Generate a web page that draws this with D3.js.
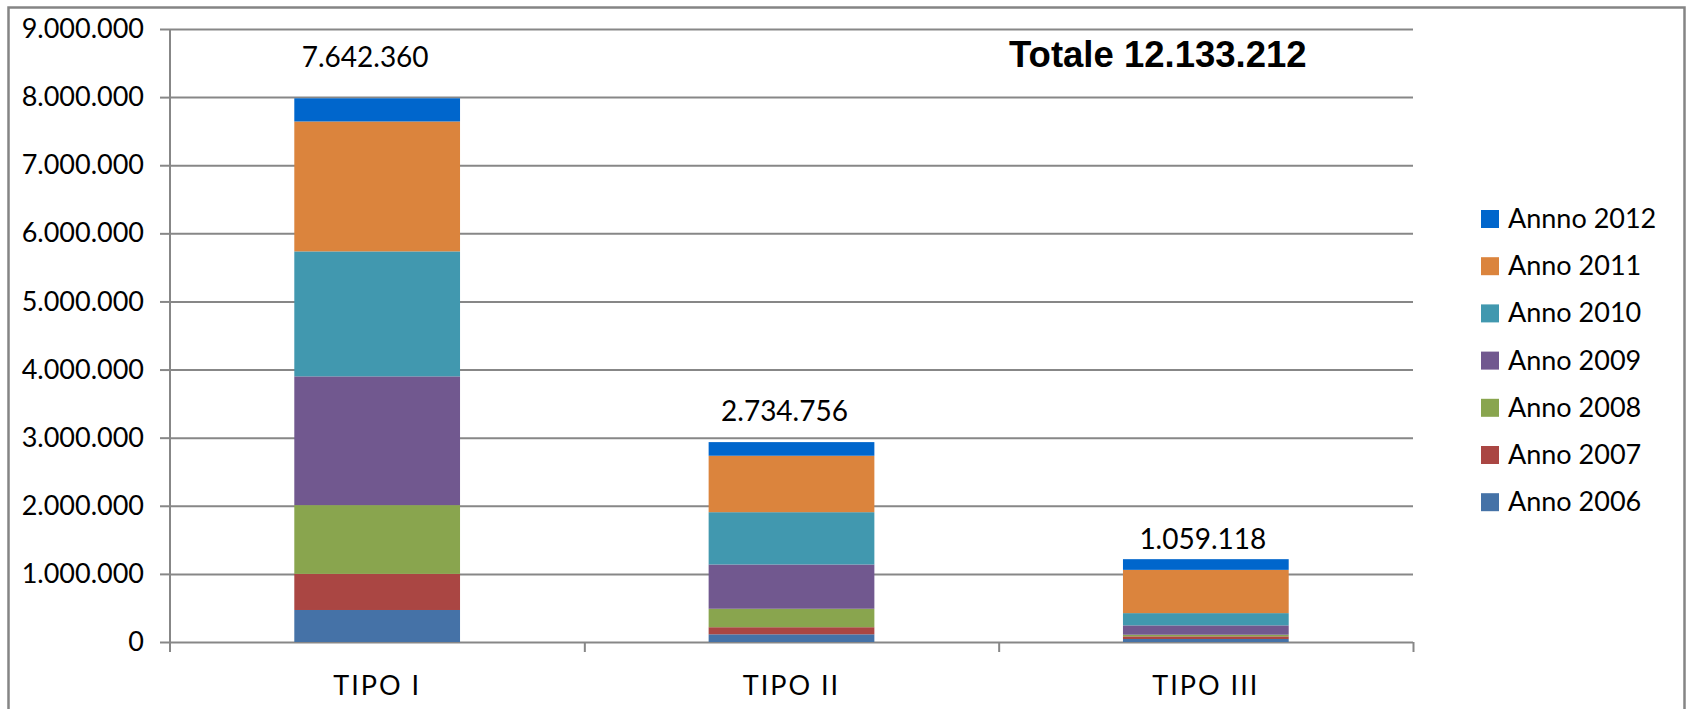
<!DOCTYPE html>
<html>
<head>
<meta charset="utf-8">
<script src="https://d3js.org/d3.v7.min.js"></script>
<style>
  body { margin: 0; background: #fff; }
  svg { display: block; }
</style>
</head>
<body>
<script>
// Categories and series
const categories = ["TIPO I", "TIPO II", "TIPO III"];
const years = ["2006", "2007", "2008", "2009", "2010", "2011", "2012"];
const legendLabels = ["Anno 2006", "Anno 2007", "Anno 2008", "Anno 2009", "Anno 2010", "Anno 2011", "Annno 2012"];

const anno2006 = [470000, 113000, 44000];
const anno2007 = [530000, 104000, 39000];
const anno2008 = [1010000, 271000, 24000];
const anno2009 = [1890000, 650000, 137000];
const anno2010 = [1835000, 768000, 180000];
const anno2011 = [1907360, 828756, 635118];
const anno2012 = [340000, 200000, 156978];

const barLabels = ["7.642.360", "2.734.756", "1.059.118"];
const yTicks = [0, 1e6, 2e6, 3e6, 4e6, 5e6, 6e6, 7e6, 8e6, 9e6];

const colors = ["#4572A7", "#AA4643", "#89A54E", "#71588F", "#4198AF", "#DB843D", "#0066CC"];

const seriesValues = [anno2006, anno2007, anno2008, anno2009, anno2010, anno2011, anno2012];

// table for d3.stack
const table = categories.map((c, i) => {
  const row = { cat: c };
  years.forEach((y, k) => row[y] = seriesValues[k][i]);
  return row;
});

const W = 1686, H = 709;
const margin = { top: 29, right: 273, bottom: 67, left: 170 };
const width = W - margin.left - margin.right;
const height = H - margin.top - margin.bottom;

const it = d3.formatLocale({ decimal: ",", thousands: ".", grouping: [3], currency: ["€", ""] });
const fmt = it.format(",d");

const svg = d3.select("body")
  .append("svg")
  .attr("width", W)
  .attr("height", H);

// outer frame
svg.append("rect")
  .attr("x", 8.5)
  .attr("y", 7.5)
  .attr("width", 1676)
  .attr("height", 760)
  .attr("fill", "none")
  .attr("stroke", "#858585")
  .attr("stroke-width", 2.5);

const g = svg.append("g")
  .attr("transform", `translate(${margin.left},${margin.top})`);

const x = d3.scaleBand()
  .domain(categories)
  .range([0, width])
  .paddingInner(0.6)
  .paddingOuter(0.3);

const xEdge = d3.scaleLinear()
  .domain([0, categories.length])
  .range([0, width]);

const y = d3.scaleLinear()
  .domain([0, 9e6])
  .range([height, 0]);

const gridColor = "#878787";

// grid lines
g.append("g")
  .call(d3.axisLeft(y).tickValues(yTicks).tickSize(-width).tickFormat(""))
  .call(s => s.select(".domain").remove())
  .call(s => s.selectAll("line").attr("stroke", gridColor).attr("stroke-width", 2));

// y axis
g.append("g")
  .call(d3.axisLeft(y).tickValues(yTicks).tickSize(10).tickPadding(16).tickFormat(fmt))
  .call(s => s.select(".domain").remove())
  .call(s => s.selectAll("line").attr("stroke", gridColor).attr("stroke-width", 2))
  .call(s => s.selectAll("text")
    .attr("font-family", "Lato, sans-serif")
    .attr("font-size", 27)
    .attr("fill", "#000"));

// vertical axis line (extends down as a tick)
g.append("line")
  .attr("x1", 0).attr("x2", 0)
  .attr("y1", 0).attr("y2", height + 10)
  .attr("stroke", gridColor)
  .attr("stroke-width", 2);

// x axis ticks at category boundaries
g.append("g")
  .attr("transform", `translate(0,${height})`)
  .call(d3.axisBottom(xEdge).tickValues(d3.range(1, categories.length + 1)).tickSize(10).tickFormat(""))
  .call(s => s.select(".domain").remove())
  .call(s => s.selectAll("line").attr("stroke", gridColor).attr("stroke-width", 2));

// category labels
g.append("g")
  .attr("transform", `translate(0,${height})`)
  .call(d3.axisBottom(x).tickSize(0).tickPadding(34))
  .call(s => s.select(".domain").remove())
  .call(s => s.selectAll("text")
    .attr("font-family", "Lato, sans-serif")
    .attr("font-size", 27)
    .attr("letter-spacing", 2)
    .attr("fill", "#000"));

// stacked bars
const stack = d3.stack().keys(years);
const layers = stack(table);

g.selectAll(".layer")
  .data(layers)
  .join("g")
  .attr("class", "layer")
  .attr("fill", (d, i) => colors[i])
  .selectAll("rect")
  .data(d => d)
  .join("rect")
  .attr("x", d => x(d.data.cat))
  .attr("y", d => y(d[1]))
  .attr("width", x.bandwidth())
  .attr("height", d => y(d[0]) - y(d[1]));

// labels above bars (hand placed in the original)
const labelShift = [{ dx: -12, dy: -31 }, { dx: -7, dy: -21 }, { dx: -3, dy: -10 }];
const totals = table.map(r => d3.sum(years, k => r[k]));

g.selectAll(".barlabel")
  .data(categories)
  .join("text")
  .attr("class", "barlabel")
  .attr("x", (d, i) => x(d) + x.bandwidth() / 2 + labelShift[i].dx)
  .attr("y", (d, i) => y(totals[i]) + labelShift[i].dy)
  .attr("text-anchor", "middle")
  .attr("font-family", "Lato, sans-serif")
  .attr("font-size", 28)
  .attr("fill", "#000")
  .text((d, i) => barLabels[i]);

// title with the grand total
svg.append("text")
  .attr("x", 1009)
  .attr("y", 67)
  .attr("font-family", "Liberation Sans, Arial, sans-serif")
  .attr("font-weight", "bold")
  .attr("font-size", 36.5)
  .attr("fill", "#000")
  .text("Totale " + fmt(d3.sum(totals)));

// legend (top: 2012)
const legend = svg.append("g")
  .attr("transform", "translate(1481,210)");

const legendItems = legend.selectAll("g")
  .data(d3.range(years.length).reverse())
  .join("g")
  .attr("transform", (d, i) => `translate(0,${i * 47.2})`);

legendItems.append("rect")
  .attr("width", 18)
  .attr("height", 18)
  .attr("fill", d => colors[d]);

legendItems.append("text")
  .attr("x", 27)
  .attr("y", 18)
  .attr("font-family", "Lato, sans-serif")
  .attr("font-size", 27)
  .attr("fill", "#000")
  .text(d => legendLabels[d]);
</script>
</body>
</html>
